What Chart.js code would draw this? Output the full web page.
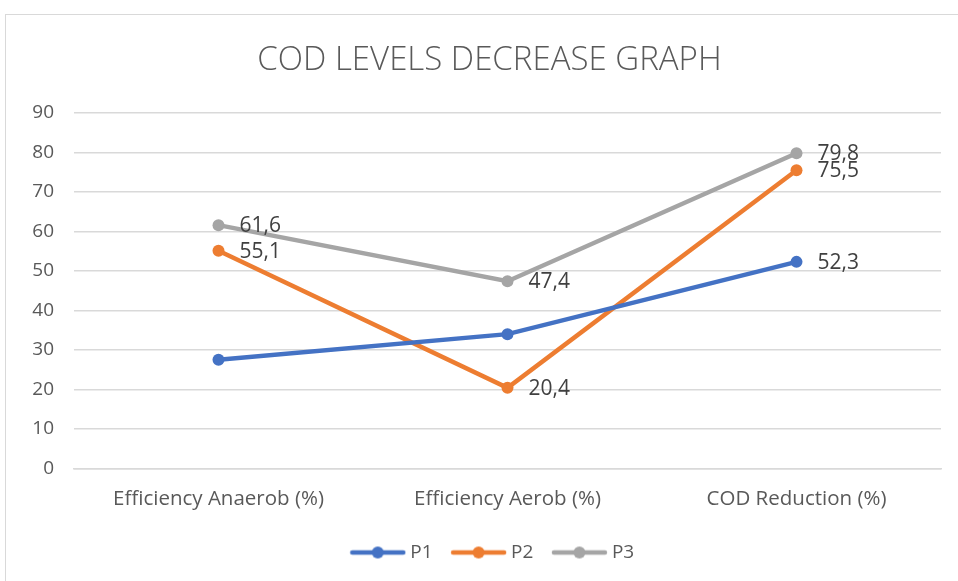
<!DOCTYPE html>
<html><head><meta charset="utf-8">
<script src="https://cdn.jsdelivr.net/npm/chart.js@4/dist/chart.umd.min.js"></script>
<style>
html,body{margin:0;padding:0;background:#fff;}
#wrap{position:absolute;left:0;top:0;width:958px;height:581px;}
#frame{position:absolute;left:5px;top:14px;width:960px;height:570px;border:1px solid #d9d9d9;box-sizing:border-box;pointer-events:none;}
</style></head>
<body>
<div id="wrap"><canvas id="c" width="958" height="581"></canvas></div>
<div id="frame"></div>
<script>
const categories = ['Efficiency Anaerob (%)', 'Efficiency Aerob (%)', 'COD Reduction (%)'];
const seriesNames = ['P1', 'P2', 'P3'];
const p1 = [27.5, 34.0, 52.3];
const p2 = [55.1, 20.4, 75.5];
const p3 = [61.6, 47.4, 79.8];
const p1ShowLabel = [false, false, true];
const p2ShowLabel = [true, true, true];
const p3ShowLabel = [true, true, true];
const yTicks = [0, 10, 20, 30, 40, 50, 60, 70, 80, 90];
const colors = ['#4472C4', '#ED7D31', '#A5A5A5'];

const FONT = '"Open Sans", "Noto Sans", sans-serif';

function legendIcon(color) {
  const cv = document.createElement('canvas');
  cv.width = 57; cv.height = 14;
  const g = cv.getContext('2d');
  g.strokeStyle = color; g.lineWidth = 4.5; g.lineCap = 'round';
  g.beginPath(); g.moveTo(3, 7); g.lineTo(54, 7); g.stroke();
  g.fillStyle = color; g.beginPath(); g.arc(28.5, 7, 6, 0, Math.PI * 2); g.fill();
  return cv;
}

const showFlags = [p1ShowLabel, p2ShowLabel, p3ShowLabel];
const labelPlugin = {
  id: 'valueLabels',
  afterDatasetsDraw(chart) {
    const ctx = chart.ctx;
    ctx.save();
    ctx.font = '21px ' + FONT;
    ctx.fillStyle = '#404040';
    ctx.textAlign = 'left';
    ctx.textBaseline = 'middle';
    chart.data.datasets.forEach((ds, i) => {
      const meta = chart.getDatasetMeta(i);
      meta.data.forEach((pt, j) => {
        if (!showFlags[i][j]) return;
        const txt = String(ds.data[j]).replace('.', ',');
        ctx.fillText(txt, pt.x + 21, pt.y + 1);
      });
    });
    ctx.restore();
  }
};

// shift title and legend to match the original placement
const shiftPlugin = {
  id: 'shiftBoxes',
  afterLayout(chart) {
    if (chart.legend) {
      chart.legend.left += 24; chart.legend.right += 24;
      chart.legend.top -= 9; chart.legend.bottom -= 9;
    }
    if (chart.titleBlock) { chart.titleBlock.left += 19; chart.titleBlock.right += 19; }
  }
};

const dataArr = [p1, p2, p3];
new Chart(document.getElementById('c'), {
  type: 'line',
  data: {
    labels: categories,
    datasets: seriesNames.map((n, i) => ({
      label: n,
      data: dataArr[i],
      borderColor: colors[i],
      backgroundColor: colors[i],
      borderWidth: 4.5,
      pointRadius: 6,
      pointHoverRadius: 6,
      pointBorderWidth: 0,
      tension: 0,
      fill: false
    }))
  },
  options: {
    responsive: false,
    animation: false,
    layout: { padding: { left: 0, right: 17, top: 0, bottom: 0 } },
    plugins: {
      tooltip: { enabled: false },
      title: {
        display: true,
        text: 'COD LEVELS DECREASE GRAPH',
        color: '#595959',
        font: { family: FONT, size: 33, weight: '300' },
        padding: { top: 41.2, bottom: 32.2 }
      },
      legend: {
        position: 'bottom',
        labels: {
          usePointStyle: true,
          pointStyleWidth: 46,
          color: '#595959',
          font: { family: FONT, size: 19 },
          padding: 23,
          generateLabels(chart) {
            return chart.data.datasets.map((ds, i) => ({
              text: ds.label,
              pointStyle: legendIcon(colors[i]),
              fillStyle: colors[i],
              strokeStyle: colors[i],
              lineWidth: 0,
              hidden: false,
              datasetIndex: i,
              fontColor: '#595959'
            }));
          }
        }
      }
    },
    scales: {
      x: {
        offset: true,
        grid: { display: false, drawTicks: false },
        border: { display: true, color: '#d9d9d9', width: 1.5 },
        ticks: { color: '#595959', font: { family: FONT, size: 20.5 }, padding: 18, maxRotation: 0 }
      },
      y: {
        min: 0, max: 90,
        afterBuildTicks(scale) { scale.ticks = yTicks.map(v => ({ value: v })); },
        afterFit(scale) { scale.width = 74; },
        grid: { color: '#d9d9d9', lineWidth: 1.5, drawTicks: false },
        border: { display: false },
        ticks: { color: '#595959', font: { family: FONT, size: 19 }, padding: 20 }
      }
    }
  },
  plugins: [labelPlugin, shiftPlugin]
});
</script>
</body></html>
